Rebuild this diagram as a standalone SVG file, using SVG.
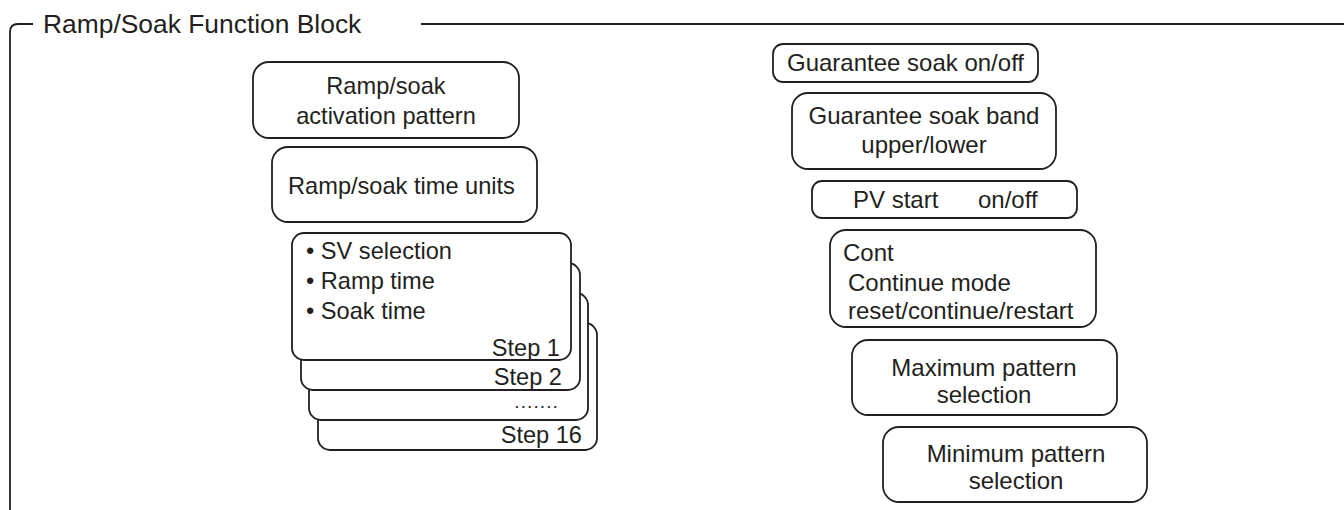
<svg xmlns="http://www.w3.org/2000/svg" width="1344" height="510" viewBox="0 0 1344 510">
<style>
  .box { fill: #fff; stroke: #231f20; stroke-width: 1.8; }
  .frame { fill: none; stroke: #231f20; stroke-width: 1.8; }
  text { font-family: "Liberation Sans", Arial, sans-serif; font-size: 24px; fill: #231f20; }
  .c { text-anchor: middle; }
  .r { text-anchor: end; }
  .title { font-size: 26.4px; }
  .s { font-size: 23.6px; }
  .st { font-size: 23.6px; }
  .dots { font-size: 19px; letter-spacing: 1.1px; }
</style>
<rect width="1344" height="510" fill="#fff"/>
<g id="frame">
  <path class="frame" d="M 33 24 H 18 Q 10 24 10 32 V 510"/>
  <path class="frame" d="M 421 24 H 1344"/>
  <text class="title" x="43" y="33">Ramp/Soak Function Block</text>
</g>
<g id="connectors"></g>
<g id="activation-pattern">
  <rect class="box" x="253" y="62" width="266" height="76" rx="16"/>
  <text class="c s" x="386" y="94">Ramp/soak</text>
  <text class="c s" x="386" y="124">activation pattern</text>
</g>
<g id="time-units">
  <rect class="box" x="272" y="147" width="265" height="75" rx="16"/>
  <text class="c s" x="401.5" y="194">Ramp/soak time units</text>
</g>
<g id="step16">
  <rect class="box" x="318" y="323" width="279" height="127" rx="12"/>
  <text class="r st" x="582" y="443">Step 16</text>
</g>
<g id="step-dots">
  <rect class="box" x="309" y="293" width="279" height="127" rx="12"/>
  <text class="r dots" x="559" y="408">.......</text>
</g>
<g id="step2">
  <rect class="box" x="301" y="263" width="279" height="127" rx="12"/>
  <text class="r st" x="562" y="385">Step 2</text>
</g>
<g id="step1">
  <rect class="box" x="292" y="233" width="279" height="127" rx="12"/>
  <text class="st" x="306" y="259">• SV selection</text>
  <text class="st" x="306" y="289">• Ramp time</text>
  <text class="st" x="306" y="319">• Soak time</text>
  <text class="r st" x="560" y="356">Step 1</text>
</g>
<g id="guarantee-soak">
  <rect class="box" x="773" y="44" width="265" height="38" rx="10"/>
  <text class="c" x="905.5" y="71">Guarantee soak on/off</text>
</g>
<g id="guarantee-band">
  <rect class="box" x="792" y="93" width="264" height="76" rx="16"/>
  <text class="c" x="924" y="124">Guarantee soak band</text>
  <text class="c" x="924" y="153">upper/lower</text>
</g>
<g id="pv-start">
  <rect class="box" x="812" y="181" width="265" height="37" rx="10"/>
  <text x="853" y="208">PV start</text>
  <text x="978" y="208">on/off</text>
</g>
<g id="cont">
  <rect class="box" x="830" y="230" width="266" height="97" rx="16"/>
  <text x="843" y="261">Cont</text>
  <text x="848" y="291">Continue mode</text>
  <text x="848" y="319">reset/continue/restart</text>
</g>
<g id="max-pattern">
  <rect class="box" x="852" y="340" width="265" height="75" rx="16"/>
  <text class="c" x="984" y="376">Maximum pattern</text>
  <text class="c" x="984" y="403">selection</text>
</g>
<g id="min-pattern">
  <rect class="box" x="883" y="427" width="264" height="75" rx="16"/>
  <text class="c" x="1016" y="462">Minimum pattern</text>
  <text class="c" x="1016" y="489">selection</text>
</g>
</svg>
